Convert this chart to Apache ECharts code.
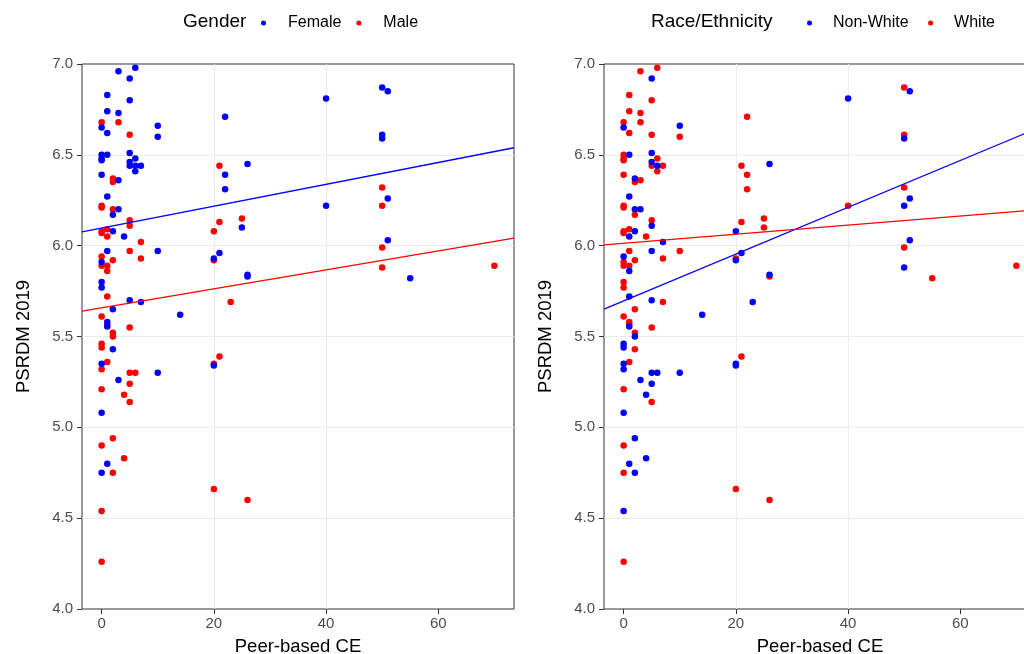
<!DOCTYPE html>
<html>
<head>
<meta charset="utf-8">
<script src="https://cdn.jsdelivr.net/npm/echarts@6/dist/echarts.min.js"></script>
<style>
  html, body { margin: 0; padding: 0; background: #fff; }
  #chart { width: 1024px; height: 654px; }
</style>
</head>
<body>
<div id="chart"></div>
<script>
// one entry per respondent, same order in every array
const peerCE = [
  3, 6, 5, 1, 5, 1, 3, 22, 0, 3, 0, 1, 5, 10, 10, 5, 0, 1, 0, 0,
  6, 5, 5, 6, 6, 7, 21, 26, 22, 22, 0, 2, 2, 3, 1, 0, 0, 2, 3, 2,
  5, 5, 21, 25, 25, 20, 1, 0, 0, 2, 1, 4, 7, 40, 50, 51, 50, 50, 40, 50,
  51, 50, 51, 50, 21, 20, 20, 50, 70, 26, 26, 55, 23, 1, 5, 10, 7, 0, 0, 0,
  1, 1, 2, 0, 0, 1, 5, 7, 2, 14, 0, 1, 1, 1, 5, 2, 2, 0, 0, 2,
  1, 0, 0, 20, 20, 21, 5, 6, 10, 3, 5, 0, 4, 5, 0, 2, 0, 4, 1, 0,
  2, 20, 26, 0, 0
];
const psrdm = [
  6.96, 6.98, 6.92, 6.83, 6.80, 6.74, 6.73, 6.71, 6.68, 6.68, 6.65, 6.62, 6.61, 6.66, 6.60, 6.51, 6.50, 6.50, 6.48, 6.47,
  6.48, 6.46, 6.44, 6.44, 6.41, 6.44, 6.44, 6.45, 6.39, 6.31, 6.39, 6.37, 6.35, 6.36, 6.27, 6.22, 6.21, 6.20, 6.20, 6.17,
  6.14, 6.11, 6.13, 6.15, 6.10, 6.08, 6.09, 6.08, 6.07, 6.08, 6.05, 6.05, 6.02, 6.81, 6.87, 6.85, 6.61, 6.59, 6.22, 6.32,
  6.26, 6.22, 6.03, 5.99, 5.96, 5.93, 5.92, 5.88, 5.89, 5.84, 5.83, 5.82, 5.69, 5.97, 5.97, 5.97, 5.93, 5.94, 5.91, 5.89,
  5.89, 5.86, 5.92, 5.80, 5.77, 5.72, 5.70, 5.69, 5.65, 5.62, 5.61, 5.58, 5.565, 5.555, 5.55, 5.52, 5.50, 5.46, 5.44, 5.43,
  5.36, 5.35, 5.32, 5.35, 5.34, 5.39, 5.30, 5.30, 5.30, 5.26, 5.24, 5.21, 5.18, 5.14, 5.08, 4.94, 4.90, 4.83, 4.80, 4.75,
  4.75, 4.66, 4.60, 4.54, 4.26
];
const gender = [
  'F', 'F', 'F', 'F', 'F', 'F', 'F', 'F', 'M', 'M', 'F', 'F', 'M', 'F', 'F', 'F', 'F', 'F', 'F', 'F',
  'F', 'F', 'F', 'F', 'F', 'F', 'M', 'F', 'F', 'F', 'F', 'M', 'M', 'F', 'F', 'M', 'M', 'M', 'F', 'F',
  'M', 'M', 'M', 'M', 'F', 'M', 'M', 'M', 'M', 'F', 'M', 'F', 'M', 'F', 'F', 'F', 'F', 'F', 'F', 'M',
  'F', 'M', 'F', 'M', 'F', 'F', 'M', 'M', 'M', 'F', 'F', 'F', 'M', 'F', 'M', 'F', 'M', 'M', 'F', 'M',
  'M', 'M', 'M', 'F', 'F', 'M', 'F', 'F', 'F', 'F', 'M', 'F', 'M', 'F', 'M', 'M', 'M', 'M', 'M', 'F',
  'M', 'F', 'M', 'M', 'F', 'M', 'M', 'M', 'F', 'F', 'M', 'M', 'M', 'M', 'F', 'M', 'M', 'M', 'F', 'F',
  'M', 'M', 'M', 'M', 'M'
];
const race = [
  'W', 'W', 'N', 'W', 'W', 'W', 'W', 'W', 'W', 'W', 'N', 'W', 'W', 'N', 'W', 'N', 'W', 'N', 'W', 'W',
  'W', 'N', 'W', 'N', 'W', 'W', 'W', 'N', 'W', 'W', 'W', 'N', 'W', 'W', 'N', 'W', 'W', 'N', 'N', 'W',
  'W', 'N', 'W', 'W', 'W', 'N', 'W', 'W', 'W', 'N', 'N', 'W', 'N', 'N', 'W', 'N', 'W', 'N', 'W', 'W',
  'N', 'N', 'N', 'W', 'N', 'W', 'N', 'N', 'W', 'N', 'W', 'W', 'N', 'W', 'N', 'W', 'W', 'N', 'W', 'W',
  'W', 'N', 'W', 'W', 'W', 'N', 'N', 'W', 'W', 'N', 'W', 'W', 'W', 'N', 'W', 'W', 'N', 'N', 'N', 'W',
  'W', 'N', 'N', 'N', 'N', 'W', 'N', 'N', 'N', 'N', 'N', 'W', 'N', 'W', 'N', 'N', 'W', 'N', 'N', 'W',
  'N', 'W', 'W', 'N', 'W'
];

// fitted lines, read at the panel edges
const fitFemale = [[-3.5, 6.076], [73.5, 6.539]];
const fitMale = [[-3.5, 5.640], [73.5, 6.042]];
const fitNonWhite = [[-3.5, 5.651], [73.5, 6.643]];
const fitWhite = [[-3.5, 6.004], [73.5, 6.197]];

const xTicks = [0, 20, 40, 60];

const FONT = "'Liberation Sans', Arial, sans-serif";
const BLUE = '#0000ff';
const RED = '#ff0000';

function pick(groups, level) {
  const out = [];
  peerCE.forEach((x, i) => {
    if (groups[i] === level) out.push([x, psrdm[i]]);
  });
  return out;
}

function xAxisCfg(gridIndex) {
  return {
    type: 'value',
    gridIndex,
    min: -3.5,
    max: 73.5,
    name: 'Peer-based CE',
    nameLocation: 'middle',
    nameGap: 28,
    nameTextStyle: { fontFamily: FONT, fontSize: 18.5, color: '#000' },
    axisLine: { show: false, onZero: false },
    axisTick: { show: true, length: 5, lineStyle: { color: '#333', width: 1 }, customValues: xTicks },
    axisLabel: {
      customValues: xTicks,
      margin: 7,
      fontFamily: FONT,
      fontSize: 15,
      color: '#4d4d4d'
    },
    splitLine: {
      show: true,
      showMinLine: false,
      showMaxLine: false,
      lineStyle: { color: '#ebebeb', width: 1 }
    }
  };
}

function yAxisCfg(gridIndex) {
  return {
    type: 'value',
    gridIndex,
    min: 4,
    max: 7,
    interval: 0.5,
    name: 'PSRDM 2019',
    nameLocation: 'middle',
    nameGap: 49,
    nameTextStyle: { fontFamily: FONT, fontSize: 18.5, color: '#000' },
    axisLine: { show: false, onZero: false },
    axisTick: { show: true, length: 5, lineStyle: { color: '#333', width: 1 } },
    axisLabel: {
      margin: 9,
      fontFamily: FONT,
      fontSize: 15,
      color: '#4d4d4d',
      formatter: v => v.toFixed(1)
    },
    splitLine: {
      show: true,
      showMinLine: false,
      showMaxLine: false,
      lineStyle: { color: '#ebebeb', width: 1 }
    }
  };
}

function scatter(name, idx, data, color) {
  return {
    name,
    type: 'scatter',
    xAxisIndex: idx,
    yAxisIndex: idx,
    data,
    symbolSize: 6.5,
    itemStyle: { color, opacity: 1 },
    clip: true,
    silent: true
  };
}

function fit(name, idx, data, color) {
  return {
    name,
    type: 'line',
    xAxisIndex: idx,
    yAxisIndex: idx,
    data,
    symbol: 'none',
    lineStyle: { color, width: 1.3 },
    clip: true,
    silent: true,
    z: 5
  };
}

function legendCfg(names, left, pad, gap) {
  return {
    data: names,
    left,
    top: 15,
    padding: 0,
    orient: 'horizontal',
    icon: 'circle',
    itemWidth: 5,
    itemHeight: 5,
    itemGap: gap,
    selectedMode: false,
    formatter: '{t|{name}}',
    textStyle: {
      rich: {
        t: { fontFamily: FONT, fontSize: 16, color: '#000', padding: [0, 0, 0, pad] }
      }
    }
  };
}

const chart = echarts.init(document.getElementById('chart'));

const gridBase = {
  top: 64, width: 432, height: 545,
  show: true, borderColor: '#333', borderWidth: 1, backgroundColor: 'transparent',
  outerBoundsMode: 'none', containLabel: false
};

chart.setOption({
  animation: false,
  backgroundColor: '#fff',
  textStyle: { fontFamily: FONT },
  grid: [
    Object.assign({ left: 82 }, gridBase),
    Object.assign({ left: 604 }, gridBase)
  ],
  xAxis: [xAxisCfg(0), xAxisCfg(1)],
  yAxis: [yAxisCfg(0), yAxisCfg(1)],
  legend: [
    legendCfg(['Female', 'Male'], 261, 17, 15),
    legendCfg(['Non-White', 'White'], 807, 16, 19.5)
  ],
  graphic: [
    { type: 'text', left: 183, top: 12.5, style: { text: 'Gender', fontFamily: FONT, fontSize: 19, fill: '#000' } },
    { type: 'text', left: 651, top: 12.5, style: { text: 'Race/Ethnicity', fontFamily: FONT, fontSize: 19, fill: '#000' } }
  ],
  series: [
    scatter('Male', 0, pick(gender, 'M'), RED),
    scatter('Female', 0, pick(gender, 'F'), BLUE),
    fit('Female fit', 0, fitFemale, BLUE),
    fit('Male fit', 0, fitMale, RED),
    scatter('White', 1, pick(race, 'W'), RED),
    scatter('Non-White', 1, pick(race, 'N'), BLUE),
    fit('Non-White fit', 1, fitNonWhite, BLUE),
    fit('White fit', 1, fitWhite, RED)
  ]
});
</script>
</body>
</html>
